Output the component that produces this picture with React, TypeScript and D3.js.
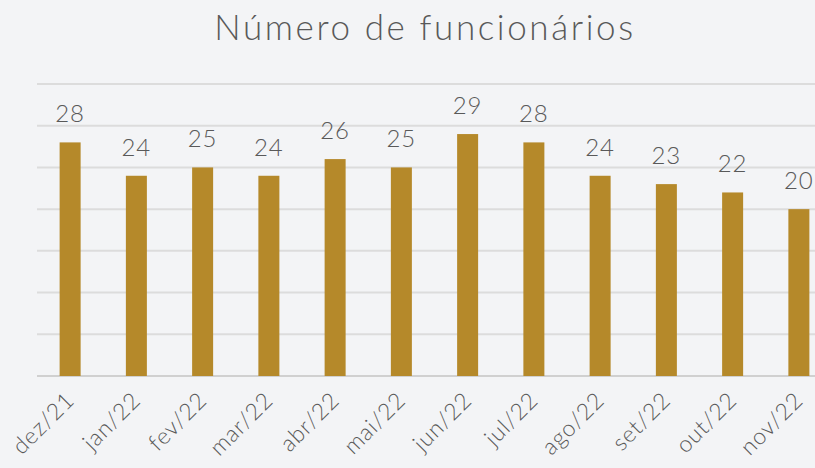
import React, { useEffect, useRef } from "react";
import * as d3 from "d3";

const months = ["dez/21", "jan/22", "fev/22", "mar/22", "abr/22", "mai/22", "jun/22", "jul/22", "ago/22", "set/22", "out/22", "nov/22"];
const employees = [28, 24, 25, 24, 26, 25, 29, 28, 24, 23, 22, 20];
const gridTicks = [0, 5, 10, 15, 20, 25, 30, 35];

const App = () => {
    const svgRef = useRef<SVGSVGElement>(null);

    useEffect(() => {
        const svg = d3.select(svgRef.current);
        svg.selectAll("*").remove();

        const width = 815;
        const height = 468;
        const margin = { top: 84, left: 37, bottom: 92 };
        const plotRight = 832;
        const barColor = "#b5892a";
        const textColor = "#595959";
        const font = "Lato, 'DejaVu Sans', sans-serif";

        svg.attr("width", width).attr("height", height).style("display", "block").style("background", "#f3f4f6");

        const xScale = d3.scaleBand<string>()
            .domain(months)
            .range([margin.left, plotRight])
            .paddingInner(0.683)
            .paddingOuter(0.3415);

        const yScale = d3.scaleLinear()
            .domain([0, 35])
            .range([height - margin.bottom, margin.top]);

        // Gridlines
        svg.append("g")
            .selectAll("line")
            .data(gridTicks)
            .join("line")
            .attr("x1", margin.left)
            .attr("x2", plotRight)
            .attr("y1", (d) => yScale(d))
            .attr("y2", (d) => yScale(d))
            .attr("stroke", (d) => (d === 0 ? "#d0d0d0" : "#dcdcdc"))
            .attr("stroke-width", 2);

        // Bars
        svg.append("g")
            .selectAll("rect")
            .data(employees)
            .join("rect")
            .attr("x", (d, i) => xScale(months[i])!)
            .attr("y", (d) => yScale(d))
            .attr("width", xScale.bandwidth())
            .attr("height", (d) => yScale(0) - yScale(d))
            .attr("fill", barColor);

        // Value labels
        svg.append("g")
            .selectAll("text")
            .data(employees)
            .join("text")
            .attr("x", (d, i) => xScale(months[i])! + xScale.bandwidth() / 2)
            .attr("y", (d) => yScale(d) - 20)
            .attr("text-anchor", "middle")
            .style("font-family", font)
            .style("font-weight", 300)
            .style("font-size", "24px")
            .style("letter-spacing", "1px")
            .style("fill", textColor)
            .text((d) => d);

        // X axis labels
        svg.append("g")
            .selectAll("text")
            .data(months)
            .join("text")
            .attr("transform", (d) => `translate(${xScale(d)! + xScale.bandwidth() / 2}, ${yScale(0) + 20}) rotate(-45)`)
            .attr("text-anchor", "end")
            .attr("dy", "0.35em")
            .style("font-family", font)
            .style("font-weight", 300)
            .style("font-size", "23px")
            .style("letter-spacing", "0.8px")
            .style("fill", textColor)
            .text((d) => d);

        // Title
        svg.append("text")
            .attr("x", 425)
            .attr("y", 40)
            .attr("text-anchor", "middle")
            .style("font-family", font)
            .style("font-weight", 300)
            .style("font-size", "35px")
            .style("letter-spacing", "2.6px")
            .style("fill", textColor)
            .text("Número de funcionários");
    }, []);

    return (
        <div style={{ position: "absolute", left: 0, top: 0 }}>
            <svg ref={svgRef}></svg>
        </div>
    );
};

export default App;
